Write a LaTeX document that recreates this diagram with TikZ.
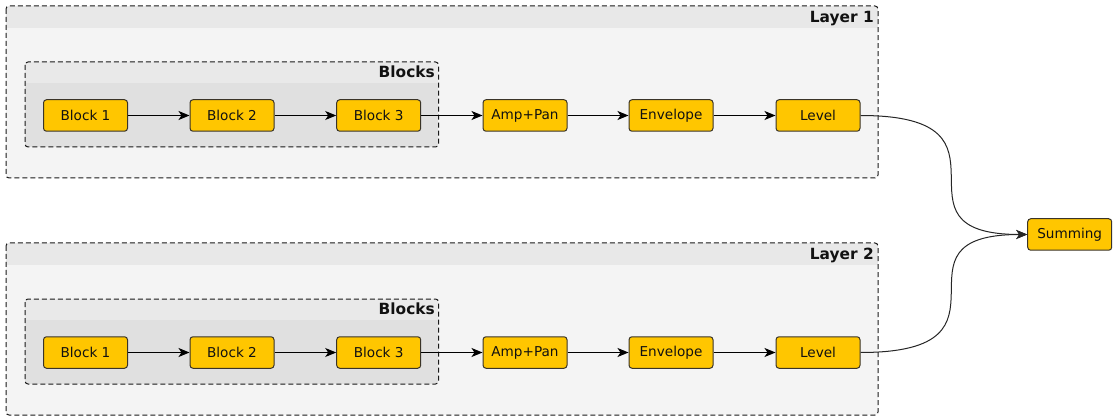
\documentclass[tikz,border=0pt]{standalone}
\usepackage{fontspec}
\setmainfont{DejaVu Sans}
\usetikzlibrary{arrows.meta}
\definecolor{nodefill}{HTML}{FFC600}
\definecolor{nodeline}{HTML}{3A3428}
\definecolor{layerbody}{HTML}{F4F4F4}
\definecolor{layerhead}{HTML}{E8E8E8}
\definecolor{blockbody}{HTML}{E0E0E0}
\definecolor{blockhead}{HTML}{E9E9E9}
\definecolor{txt}{HTML}{111111}
\tikzset{
  unit/.style={draw=nodeline, fill=nodefill, rounded corners=3pt, line width=1pt,
    minimum width=84pt, minimum height=31.5pt, inner sep=0pt, text=txt,
    font=\fontsize{13.6}{16}\selectfont},
  flow/.style={-{Stealth[length=11pt,width=9pt,inset=3pt]}, line width=1pt, black},
  merge/.style={-{Stealth[length=11pt,width=9pt,inset=3pt]}, line width=1pt, black!85},
  frame/.style={draw=black!90, dash pattern=on 5pt off 3pt, line width=1pt, rounded corners=3pt},
  headlabel/.style={anchor=base east, inner sep=0pt, text=txt, font=\bfseries\fontsize{15.4}{18}\selectfont}
}
\begin{document}
\begin{tikzpicture}[x=1pt,y=-1pt]
\useasboundingbox (0,0) rectangle (1115,419);
% Containers
\foreach \dy/\n in {0/1,237/2}{
  \begin{scope}[yshift=-\dy pt]
    \begin{scope}
      \clip[rounded corners=3pt] (6,6) rectangle (878,178);
      \fill[layerbody] (6,6) rectangle (878,178);
      \fill[layerhead] (6,6) rectangle (878,28.5);
    \end{scope}
    \draw[frame] (6,6) rectangle (878,178);
    \node[headlabel] (layerlabel\n) at (874,23) {Layer \n};
    \begin{scope}
      \clip[rounded corners=3pt] (25,62) rectangle (438.5,147);
      \fill[blockbody] (25,62) rectangle (438.5,147);
      \fill[blockhead] (25,62) rectangle (438.5,83);
    \end{scope}
    \draw[frame] (25,62) rectangle (438.5,147);
    \node[headlabel] (blockslabel\n) at (435,77.5) {Blocks};
    \node[unit] (b1\n) at (85.5,115.5) {Block 1};
    \node[unit] (b2\n) at (232,115.5) {Block 2};
    \node[unit] (b3\n) at (378.7,115.5) {Block 3};
    \node[unit] (amp\n) at (525,115.5) {Amp+Pan};
    \node[unit] (env\n) at (671,115.5) {Envelope};
    \node[unit] (lev\n) at (818,115.5) {Level};
    \draw[flow] (b1\n) -- (b2\n);
    \draw[flow] (b2\n) -- (b3\n);
    \draw[flow] (b3\n) -- (amp\n);
    \draw[flow] (amp\n) -- (env\n);
    \draw[flow] (env\n) -- (lev\n);
  \end{scope}
}
\node[unit] (sum) at (1069.7,234.5) {Summing};
\draw[merge] (lev1.east) .. controls (1032,115.5) and (878,234.5) .. (sum.west);
\draw[merge] (lev2.east) .. controls (1032,352.5) and (878,234.5) .. (sum.west);
\end{tikzpicture}
\end{document}
